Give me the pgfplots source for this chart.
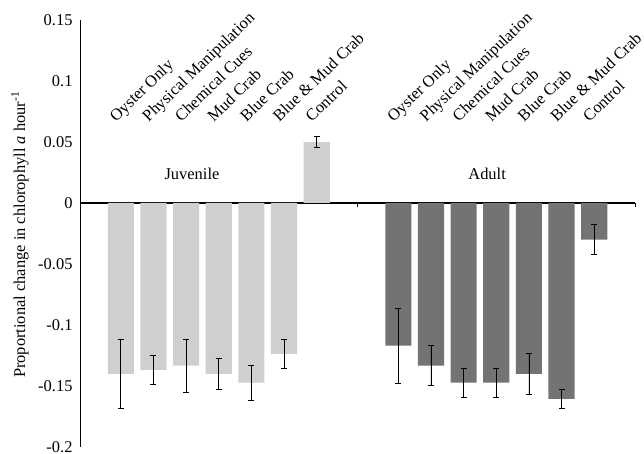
\documentclass[border=0pt]{standalone}
\usepackage{pgfplots}
\pgfplotsset{compat=1.18}
\usepackage{fontspec}
\setmainfont{Liberation Serif}
\definecolor{juv}{RGB}{206,207,206}
\definecolor{adu}{RGB}{115,115,114}
\tikzset{lab/.style={rotate=44, anchor=base west, inner sep=0pt, font=\fontsize{16.5}{18}\selectfont}}
\begin{document}
\begin{tikzpicture}[x=1bp,y=1bp]
\begin{axis}[
  scale only axis,
  width=555bp, height=427bp,
  anchor=south west, at={(0,0)},
  xmin=0, xmax=17,
  ymin=-0.2, ymax=0.15,
  axis x line=middle,
  axis y line=left,
  axis line style={-},
  x axis line style={line width=1.6pt},
  y axis line style={line width=0.9pt},
  xtick={0,8.5,17},
  xticklabels={},
  xtick align=outside,
  xtick style={draw=black, thin},
  major tick length=4bp,
  ytick={-0.2,-0.15,-0.1,-0.05,0,0.05,0.1,0.15},
  yticklabels={-0.2,-0.15,-0.1,-0.05,0,0.05,0.1,0.15},
  ytick style={draw=none},
  yticklabel style={font=\fontsize{16.5}{18}\selectfont, xshift=-2bp},
  ylabel={Proportional change in chlorophyll \textit{a} hour\textsuperscript{-1}},
  ylabel style={font=\fontsize{16.5}{18}\selectfont},
  every axis y label/.append style={at={(axis description cs:-0.108,0.497)}, anchor=center},
  clip=false,
  error bars/error bar style={black, line width=0.8pt},
  error bars/error mark options={black, line width=0.8pt, mark size=3bp, rotate=90},
]
\addplot[ybar, bar width=0.8, bar shift=0pt, fill=juv, draw=none,
  error bars/.cd, y dir=both, y explicit]
  coordinates {
  (1.25,-0.140) +- (0,0.0285)
  (2.25,-0.1367) +- (0,0.012)
  (3.25,-0.1334) +- (0,0.022)
  (4.25,-0.140) +- (0,0.0125)
  (5.25,-0.1473) +- (0,0.0145)
  (6.25,-0.1236) +- (0,0.012)
  (7.25,0.0498) +- (0,0.0045)
  };
\addplot[ybar, bar width=0.8, bar shift=0pt, fill=adu, draw=none,
  error bars/.cd, y dir=both, y explicit]
  coordinates {
  (9.75,-0.117) +- (0,0.031)
  (10.75,-0.1334) +- (0,0.0165)
  (11.75,-0.1473) +- (0,0.012)
  (12.75,-0.1473) +- (0,0.012)
  (13.75,-0.140) +- (0,0.017)
  (14.75,-0.1605) +- (0,0.008)
  (15.75,-0.0301) +- (0,0.0124)
  };
\node[lab] at (axis cs:1.1,0.066) {Oyster Only};
\node[lab] at (axis cs:2.1,0.066) {Physical Manipulation};
\node[lab] at (axis cs:3.1,0.066) {Chemical Cues};
\node[lab] at (axis cs:4.1,0.066) {Mud Crab};
\node[lab] at (axis cs:5.1,0.066) {Blue Crab};
\node[lab] at (axis cs:6.1,0.066) {Blue \& Mud Crab};
\node[lab] at (axis cs:7.1,0.066) {Control};
\node[lab] at (axis cs:9.6,0.066) {Oyster Only};
\node[lab] at (axis cs:10.6,0.066) {Physical Manipulation};
\node[lab] at (axis cs:11.6,0.066) {Chemical Cues};
\node[lab] at (axis cs:12.6,0.066) {Mud Crab};
\node[lab] at (axis cs:13.6,0.066) {Blue Crab};
\node[lab] at (axis cs:14.6,0.066) {Blue \& Mud Crab};
\node[lab] at (axis cs:15.6,0.066) {Control};
\node[font=\fontsize{16.5}{18}\selectfont] at (axis cs:3.43,0.024) {Juvenile};
\node[font=\fontsize{16.5}{18}\selectfont] at (axis cs:12.47,0.024) {Adult};
\end{axis}
\pgfresetboundingbox
\path[use as bounding box] (-80,-7) rectangle (564,447);
\end{tikzpicture}
\end{document}
